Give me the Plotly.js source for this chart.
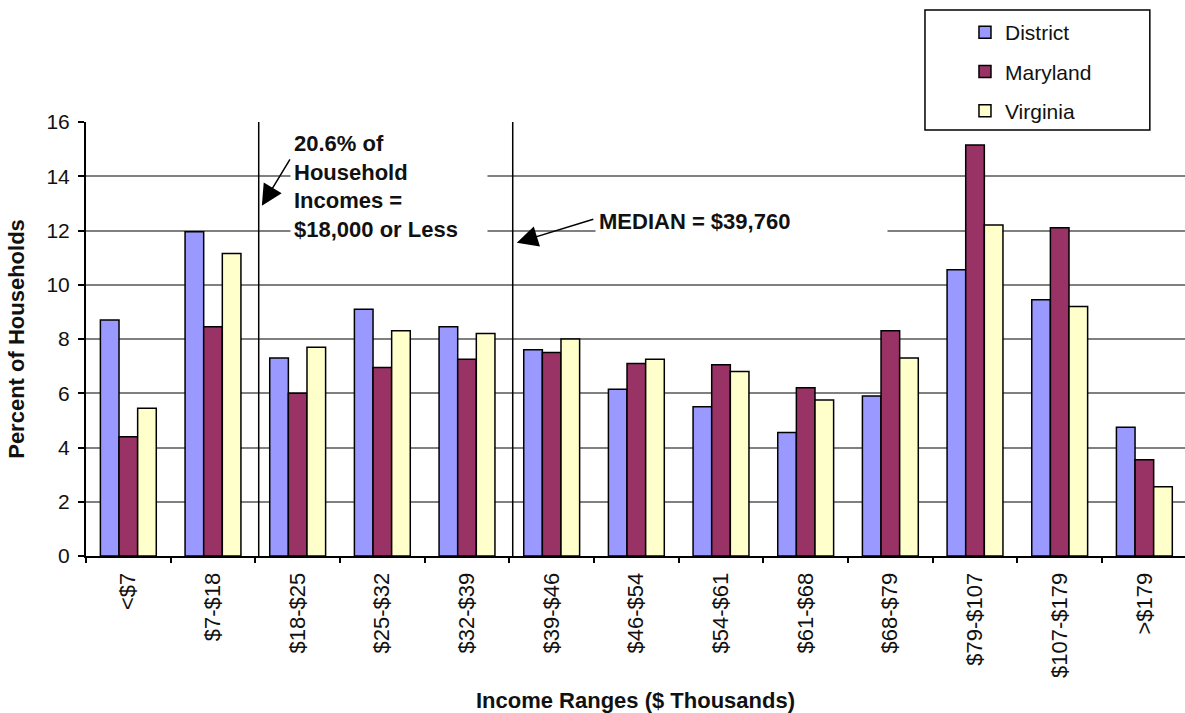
<!DOCTYPE html>
<html>
<head>
<meta charset="utf-8">
<script src="https://cdn.plot.ly/plotly-3.0.1.min.js"></script>
<style>
  html, body { margin: 0; padding: 0; background: #ffffff; }
  #chart { width: 1185px; height: 713px; }
</style>
</head>
<body>
<div id="chart"></div>
<script>
// Household income distribution by jurisdiction (percent of households)
const incomeRanges = ['<$7', '$7-$18', '$18-$25', '$25-$32', '$32-$39', '$39-$46', '$46-$54',
                      '$54-$61', '$61-$68', '$68-$79', '$79-$107', '$107-$179', '>$179'];
const district = [8.7, 11.95, 7.3, 9.1, 8.45, 7.6, 6.15, 5.5, 4.55, 5.9, 10.55, 9.45, 4.75];
const maryland = [4.4, 8.45, 6.0, 6.95, 7.25, 7.5, 7.1, 7.05, 6.2, 8.3, 15.15, 12.1, 3.55];
const virginia = [5.45, 11.15, 7.7, 8.3, 8.2, 8.0, 7.25, 6.8, 5.75, 7.3, 12.2, 9.2, 2.55];
const seriesNames = ['District', 'Maryland', 'Virginia'];
const seriesColors = ['#9999FF', '#993366', '#FFFFCC'];

const FONT = 'Arial, "Liberation Sans", sans-serif';
const TEXT = '#111111';

const traces = [district, maryland, virginia].map((vals, i) => ({
  type: 'bar',
  name: seriesNames[i],
  legendgroup: seriesNames[i],
  x: incomeRanges,
  y: vals,
  marker: { color: seriesColors[i], line: { color: '#000000', width: 1.5 } },
  hoverinfo: 'x+y+name'
}));

// Marker lines: $18,000 cut-off and the median income
const cutoffPos = 1.54;
const medianPos = 4.54;

const layout = {
  width: 1185,
  height: 713,
  margin: { l: 86, r: 0, t: 122, b: 157 },
  paper_bgcolor: '#ffffff',
  plot_bgcolor: '#ffffff',
  font: { family: FONT, color: TEXT, size: 20 },
  barmode: 'group',
  bargap: 0.34,
  bargroupgap: 0,
  showlegend: true,
  legend: {
    x: 0.7998, y: 1.2535, xanchor: 'left', yanchor: 'top',
    bgcolor: 'rgba(0,0,0,0)', borderwidth: 0,
    font: { family: FONT, size: 21, color: TEXT },
    traceorder: 'grouped',
    tracegroupgap: 9
  },
  xaxis: {
    type: 'category',
    range: [-0.5, 12.48],
    tickangle: -90,
    tickfont: { family: FONT, size: 22, color: TEXT },
    ticks: 'outside', tickson: 'boundaries', ticklen: 5, tickwidth: 1.5, tickcolor: '#000000',
    ticklabelstandoff: 6,
    showline: true, linecolor: '#000000', linewidth: 2,
    showgrid: false, zeroline: false,
    title: { text: '<b>Income Ranges ($ Thousands)</b>', font: { family: FONT, size: 22, color: TEXT }, standoff: 17 }
  },
  yaxis: {
    range: [0, 16],
    dtick: 2,
    tickfont: { family: FONT, size: 21, color: TEXT },
    ticks: 'outside', ticklen: 6, tickwidth: 1.5, tickcolor: '#000000',
    ticklabelstandoff: 4,
    showline: true, linecolor: '#000000', linewidth: 2,
    showgrid: true, gridcolor: '#808080', gridwidth: 2,
    zeroline: false,
    title: { text: '<b>Percent of Households</b>', font: { family: FONT, size: 22, color: TEXT }, standoff: 16 }
  },
  shapes: [
    { type: 'line', xref: 'x', yref: 'y', x0: cutoffPos, x1: cutoffPos, y0: 0, y1: 16,
      line: { color: '#000000', width: 1.5 }, layer: 'above' },
    { type: 'line', xref: 'x', yref: 'y', x0: medianPos, x1: medianPos, y0: 0, y1: 16,
      line: { color: '#000000', width: 1.5 }, layer: 'above' },
    // legend frame
    { type: 'rect', xref: 'paper', yref: 'paper', x0: 0.7634, x1: 0.968, y0: 0.9816, y1: 1.258,
      fillcolor: '#ffffff', line: { color: '#000000', width: 1.5 }, layer: 'above' }
  ],
  annotations: [
    { xref: 'x', yref: 'y', x: 1.908, y: 15.8, xanchor: 'left', yanchor: 'top',
      text: '<b>20.6% of<br>Household<br>Incomes =<br>$18,000 or Less</b>',
      align: 'left', width: 190, borderpad: 3, bgcolor: '#ffffff', showarrow: false,
      font: { family: FONT, size: 22, color: TEXT } },
    { xref: 'x', yref: 'y', x: 1.577, y: 12.91, ax: 29, ay: -48, text: '',
      showarrow: true, arrowhead: 2, arrowsize: 2.8, arrowwidth: 1.5, arrowcolor: '#000000' },
    { xref: 'x', yref: 'y', x: 5.509, y: 12.32, xanchor: 'left', yanchor: 'middle',
      text: '<b>MEDIAN = $39,760</b>',
      align: 'left', width: 285, borderpad: 3, bgcolor: '#ffffff', showarrow: false,
      font: { family: FONT, size: 22, color: TEXT } },
    { xref: 'x', yref: 'y', x: 4.588, y: 11.55, ax: 78, ay: -24, text: '',
      showarrow: true, arrowhead: 2, arrowsize: 2.8, arrowwidth: 1.5, arrowcolor: '#000000' }
  ]
};

Plotly.newPlot('chart', traces, layout, { displayModeBar: false, responsive: false });
</script>
</body>
</html>
